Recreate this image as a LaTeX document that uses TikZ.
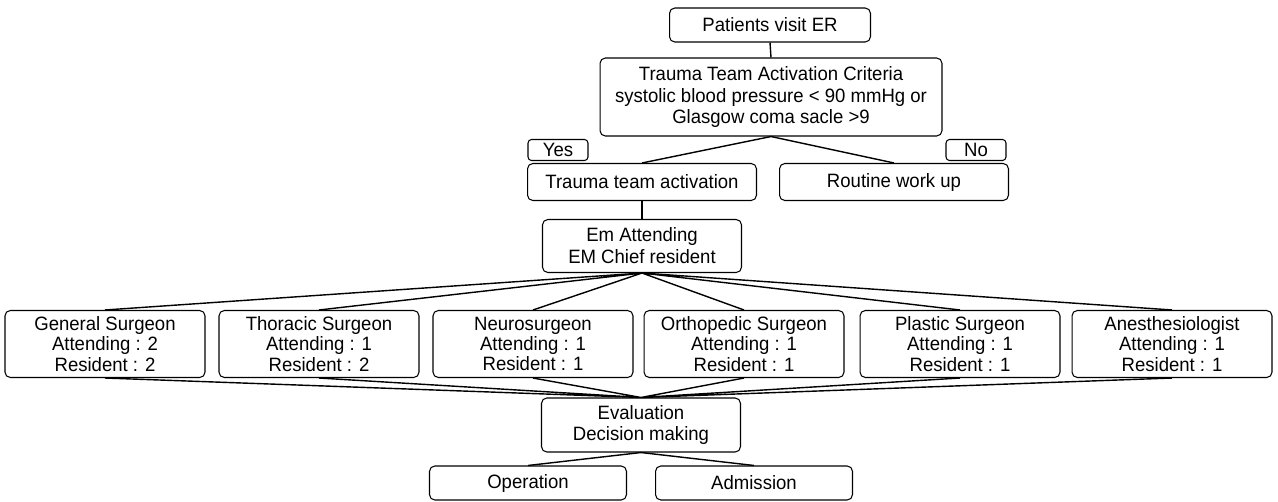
\documentclass[tikz,border=0pt]{standalone}
\usepackage{fontspec}
\setmainfont{Liberation Sans}[FakeStretch=0.96]
\usepackage{tikz}

\begin{document}
\begin{tikzpicture}[x=0.02cm, y=-0.02cm,
      box/.style={draw, rounded corners=3pt, inner sep=0pt, align=center,
                  line width=0.6pt, font=\fontsize{11}{12.5}\selectfont},
      unit/.style={box, minimum width=4cm, minimum height=1.34cm,
                   font=\fontsize{11}{11.5}\selectfont},
      tag/.style={box, rounded corners=2pt, minimum width=1.2cm,
                  minimum height=0.42cm},
      link/.style={line width=0.8pt}
    ]
      \useasboundingbox (0,0) rectangle (1278,501);
      % flow top
      \node[box, minimum width=4.02cm, minimum height=0.68cm] (visit) at (770,25) {Patients visit ER};
      \node[box, minimum width=6.84cm, minimum height=1.56cm] (criteria) at (771,97)
        {Trauma Team Activation Criteria\\systolic blood pressure < 90 mmHg or\\Glasgow coma sacle >9};
      \node[tag] (yes) at (558,150) {Yes};
      \node[tag] (no) at (976,150) {No};
      \node[box, minimum width=4.58cm, minimum height=0.74cm] (activation) at (642,182) {Trauma team activation};
      \node[box, minimum width=4.58cm, minimum height=0.74cm] (routine) at (894,182) {Routine work up};
      \node[box, minimum width=3.98cm, minimum height=1.06cm] (em) at (642,246) {Em Attending\\EM Chief resident};
      % specialists
      \node[unit] (general) at (105,344) {General Surgeon\\Attending : 2\\Resident : 2};
      \node[unit] (thoracic) at (319,344) {Thoracic Surgeon\\Attending : 1\\Resident : 2};
      \node[unit] (neuro) at (533,344) {Neurosurgeon\\Attending : 1\\Resident : 1};
      \node[unit] (ortho) at (744,344) {Orthopedic Surgeon\\Attending : 1\\Resident : 1};
      \node[unit] (plastic) at (960,344) {Plastic Surgeon\\Attending : 1\\Resident : 1};
      \node[unit] (anesth) at (1172,344) {Anesthesiologist\\Attending : 1\\Resident : 1};
      % flow bottom
      \node[box, minimum width=3.98cm, minimum height=1.08cm] (evaluation) at (641,425) {Evaluation\\Decision making};
      \node[box, minimum width=3.94cm, minimum height=0.68cm] (operation) at (528,483) {Operation};
      \node[box, minimum width=3.94cm, minimum height=0.68cm] (admission) at (754,483) {Admission};

      \draw[link] (visit.south) -- (criteria.north);
      \draw[link] (activation.north) -- (criteria.south) -- (routine.north);
      \draw[link] (activation.south) -- (em.north);
      \draw[link] (em.south) -- (general.north)  (em.south) -- (thoracic.north)
                  (em.south) -- (neuro.north)    (em.south) -- (ortho.north)
                  (em.south) -- (plastic.north)  (em.south) -- (anesth.north);
      \draw[link] (general.south) -- (evaluation.north)  (thoracic.south) -- (evaluation.north)
                  (neuro.south) -- (evaluation.north)    (ortho.south) -- (evaluation.north)
                  (plastic.south) -- (evaluation.north)  (anesth.south) -- (evaluation.north);
      \draw[link] (operation.north) -- (evaluation.south) -- (admission.north);
    \end{tikzpicture}
\end{document}
